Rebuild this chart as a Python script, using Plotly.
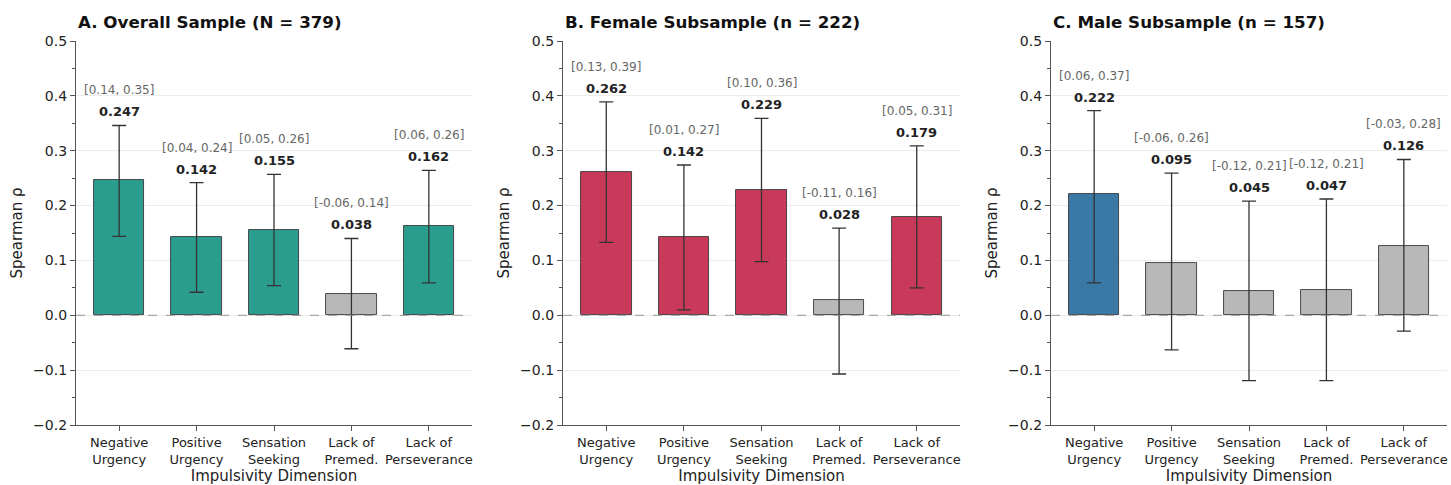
import plotly.graph_objects as go

categories = ["Negative<br>Urgency", "Positive<br>Urgency", "Sensation<br>Seeking",
              "Lack of<br>Premed.", "Lack of<br>Perseverance"]

panel_titles = ["A. Overall Sample (N = 379)", "B. Female Subsample (n = 222)",
                "C. Male Subsample (n = 157)"]

rho_overall = [0.247, 0.142, 0.155, 0.038, 0.162]
lo_overall = [0.144, 0.042, 0.054, -0.061, 0.059]
hi_overall = [0.346, 0.242, 0.257, 0.140, 0.264]

rho_female = [0.262, 0.142, 0.229, 0.028, 0.179]
lo_female = [0.133, 0.010, 0.098, -0.107, 0.050]
hi_female = [0.389, 0.274, 0.359, 0.159, 0.309]

rho_male = [0.222, 0.095, 0.045, 0.047, 0.126]
lo_male = [0.059, -0.063, -0.119, -0.119, -0.029]
hi_male = [0.373, 0.259, 0.208, 0.212, 0.284]

sig_colors = ["#2a9d8f", "#c9395a", "#3a79a5"]
grey = "#b8b8b8"

yticks = [-0.2, -0.1, 0.0, 0.1, 0.2, 0.3, 0.4, 0.5]

panels = [(rho_overall, lo_overall, hi_overall),
          (rho_female, lo_female, hi_female),
          (rho_male, lo_male, hi_male)]

W, H = 1451, 485
x_domains = [[76 / W, 472 / W], [563 / W, 960 / W], [1051 / W, 1447 / W]]
y_domain = [1 - 425 / H, 1 - 41 / H]

FONT = "DejaVu Sans"
fig = go.Figure()
annotations = []
shapes = []

def fmt(v):
    return f"{v:.2f}"

for i, (rho, lo, hi) in enumerate(panels):
    xs = list(range(len(categories)))
    colors = [sig_colors[i] if l > 0 else grey for l in lo]
    xa = "x" if i == 0 else f"x{i+1}"
    ya = "y" if i == 0 else f"y{i+1}"
    fig.add_trace(go.Bar(
        x=xs, y=rho, width=0.65,
        marker=dict(color=colors, line=dict(color="#3a3a3a", width=0.9)),
        error_y=dict(type="data", symmetric=False,
                     array=[h - r for h, r in zip(hi, rho)],
                     arrayminus=[r - l for r, l in zip(rho, lo)],
                     color="#333333", thickness=1.3, width=7),
        xaxis=xa, yaxis=ya, showlegend=False, hoverinfo="skip"))
    shapes.append(dict(type="line", xref=f"{xa} domain", yref=ya, x0=0, x1=1, y0=0, y1=0,
                       line=dict(color="#8c8c8c", width=0.9, dash="dash"), layer="above"))
    for j in range(len(categories)):
        annotations.append(dict(x=j, y=hi[j], xref=xa, yref=ya, text=f"<b>{rho[j]:.3f}</b>",
                                showarrow=False, yanchor="bottom", yshift=4,
                                font=dict(family=FONT, size=13, color="#222222")))
        annotations.append(dict(x=j, y=hi[j], xref=xa, yref=ya,
                                text=f"[{fmt(lo[j])}, {fmt(hi[j])}]",
                                showarrow=False, yanchor="bottom", yshift=26,
                                font=dict(family=FONT, size=12, color="#666666")))
    annotations.append(dict(x=0, y=1, xref=f"{xa} domain", yref=f"{ya} domain",
                            text=f"<b>{panel_titles[i]}</b>", showarrow=False,
                            xanchor="left", yanchor="bottom", yshift=7,
                            font=dict(family=FONT, size=16.7, color="#111111")))

    axis_common = dict(showline=True, linecolor="#555555", linewidth=1.2, ticks="outside",
                       tickcolor="#555555", tickwidth=1.2, ticklen=5, automargin=False)
    fig.layout[("xaxis" if i == 0 else f"xaxis{i+1}")] = dict(
        domain=x_domains[i], anchor=ya, range=[-0.5575, 4.5575],
        tickvals=xs, ticktext=categories, showgrid=False, zeroline=False,
        tickfont=dict(family=FONT, size=13, color="#222222"),
        title=dict(text="Impulsivity Dimension", standoff=6,
                   font=dict(family=FONT, size=15, color="#222222")),
        **axis_common)
    fig.layout[("yaxis" if i == 0 else f"yaxis{i+1}")] = dict(
        domain=y_domain, anchor=xa, range=[-0.2, 0.5],
        tickvals=yticks, ticktext=[f"{t:.1f}".replace("-", "\u2212") for t in yticks],
        showgrid=True, gridcolor="#ececec", gridwidth=0.8, zeroline=False,
        tickfont=dict(family=FONT, size=14, color="#222222"),
        minor=dict(ticks="outside", dtick=0.05, tick0=0, ticklen=3, tickcolor="#555555",
                   tickwidth=1, showgrid=False),
        title=dict(text="Spearman \u03c1", standoff=6,
                   font=dict(family=FONT, size=15, color="#222222")),
        **axis_common)

fig.update_layout(width=W, height=H, margin=dict(l=0, r=0, t=0, b=0),
                  plot_bgcolor="white", paper_bgcolor="white",
                  annotations=annotations, shapes=shapes, bargap=0,
                  font=dict(family=FONT))

fig.write_html("out.html", config={"displayModeBar": False},
               post_script="document.body.style.margin='0';document.body.style.overflow='hidden';")
